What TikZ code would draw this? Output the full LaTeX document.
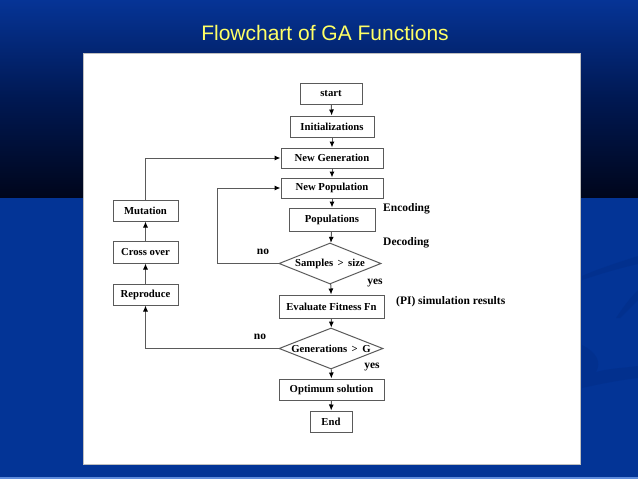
\documentclass[tikz,border=0pt]{standalone}
\usepackage{fontspec}
\setmainfont{Liberation Serif}
\newfontfamily\titlefont{Liberation Sans}
\usetikzlibrary{shapes.geometric,arrows.meta}
\definecolor{slideblue}{RGB}{3,52,150}
\definecolor{topblue}{RGB}{6,52,150}
\definecolor{midnavy}{RGB}{0,24,82}
\definecolor{darknavy}{RGB}{0,6,28}
\definecolor{titleyellow}{RGB}{255,255,102}
\definecolor{boxline}{RGB}{90,90,90}
\definecolor{swoosh}{RGB}{2,40,125}
\definecolor{edgeblue}{RGB}{95,140,220}
\begin{document}
\begin{tikzpicture}[x=1pt,y=-1pt,
  txt/.style={font=\fontsize{10.7}{12}\selectfont\bfseries},
  box/.style={txt,draw=boxline,line width=1pt,fill=white,rectangle,inner sep=0pt},
  dia/.style={txt,draw=boxline,line width=1pt,fill=white,diamond,aspect=2.5,inner sep=0pt},
  arr/.style={draw=boxline,line width=1pt,-{Latex[length=6pt,width=5pt,black]}},
  lab/.style={font=\fontsize{11.5}{13}\selectfont\bfseries,inner sep=0pt}]
\useasboundingbox (0,0) rectangle (638,479);
% background
\fill[slideblue] (0,0) rectangle (638,479);
\shade[top color=topblue,bottom color=darknavy,middle color=midnavy] (0,0) rectangle (638,197);
\fill[swoosh,opacity=0.3] (582,276) .. controls (600,268) and (620,262) .. (638,256) -- (638,264) .. controls (620,268) and (600,274) .. (582,280) -- cycle;
\fill[swoosh,opacity=0.3] (616,318) .. controls (624,306) and (630,298) .. (638,290) -- (638,300) .. controls (632,306) and (626,312) .. (620,318) -- cycle;
\fill[swoosh,opacity=0.3] (582,345) .. controls (596,352) and (602,362) .. (596,372) .. controls (610,368) and (625,368) .. (638,366) -- (638,378) .. controls (620,380) and (600,384) .. (582,388) -- cycle;
\fill[edgeblue] (0,476.5) rectangle (638,479);
% panel
\fill[white,draw=gray!50] (83,53) rectangle (580,464);
% title
\node[font=\titlefont\fontsize{21}{25}\selectfont,text=titleyellow,anchor=base] (title) at (325,40) {Flowchart of GA Functions};
% main column
\node[box,minimum width=62pt,minimum height=21pt] (start) at (331,93.5) {start};
\node[box,minimum width=84pt,minimum height=21pt] (init) at (332,126.5) {Initializations};
\node[box,minimum width=102pt,minimum height=20pt] (newgen) at (332,158) {New Generation};
\node[box,minimum width=102pt,minimum height=20pt] (newpop) at (332,188) {New Population};
\node[box,minimum width=86pt,minimum height=23pt] (pops) at (332,219.5) {Populations};
\node[dia,minimum width=102pt,minimum height=41pt] (samples) at (330,263.5) {Samples \,>\, size};
\node[box,minimum width=105pt,minimum height=23pt] (eval) at (331.5,306.5) {Evaluate Fitness Fn};
\node[dia,minimum width=104pt,minimum height=41pt] (gens) at (331,348.5) {Generations \,>\, G};
\node[box,minimum width=105pt,minimum height=21pt] (opt) at (331.5,389.5) {Optimum solution};
\node[box,minimum width=42pt,minimum height=21pt] (end) at (331,421.5) {End};
% left column
\node[box,minimum width=65pt,minimum height=21pt] (mut) at (145.5,210.5) {Mutation};
\node[box,minimum width=65pt,minimum height=22pt] (cross) at (145.5,252) {Cross over};
\node[box,minimum width=65pt,minimum height=21pt] (repro) at (145.5,294.5) {Reproduce};
% connectors
\draw[arr] (start) -- (init);
\draw[arr] (init) -- (newgen);
\draw[arr] (newgen) -- (newpop);
\draw[arr] (newpop) -- (pops);
\draw[arr] (pops) -- (samples);
\draw[arr] (samples) -- (eval);
\draw[arr] (eval) -- (gens);
\draw[arr] (gens) -- (opt);
\draw[arr] (opt) -- (end);
\draw[arr] (samples.west) -- ++(-61,0) |- (newpop.west);
\draw[arr] (gens.west) -| (repro.south);
\draw[arr] (repro) -- (cross);
\draw[arr] (cross) -- (mut);
\draw[arr] (mut.north) |- (newgen.west);
% labels
\node[lab,anchor=west] (enc) at (383,209) {Encoding};
\node[lab,anchor=west] (dec) at (383,243) {Decoding};
\node[lab] (no1) at (263,252) {no};
\node[lab] (yes1) at (375,283) {yes};
\node[lab,anchor=west] (pi) at (396,302) {(PI) simulation results};
\node[lab] (no2) at (260,337) {no};
\node[lab] (yes2) at (372,367) {yes};
\end{tikzpicture}
\end{document}
